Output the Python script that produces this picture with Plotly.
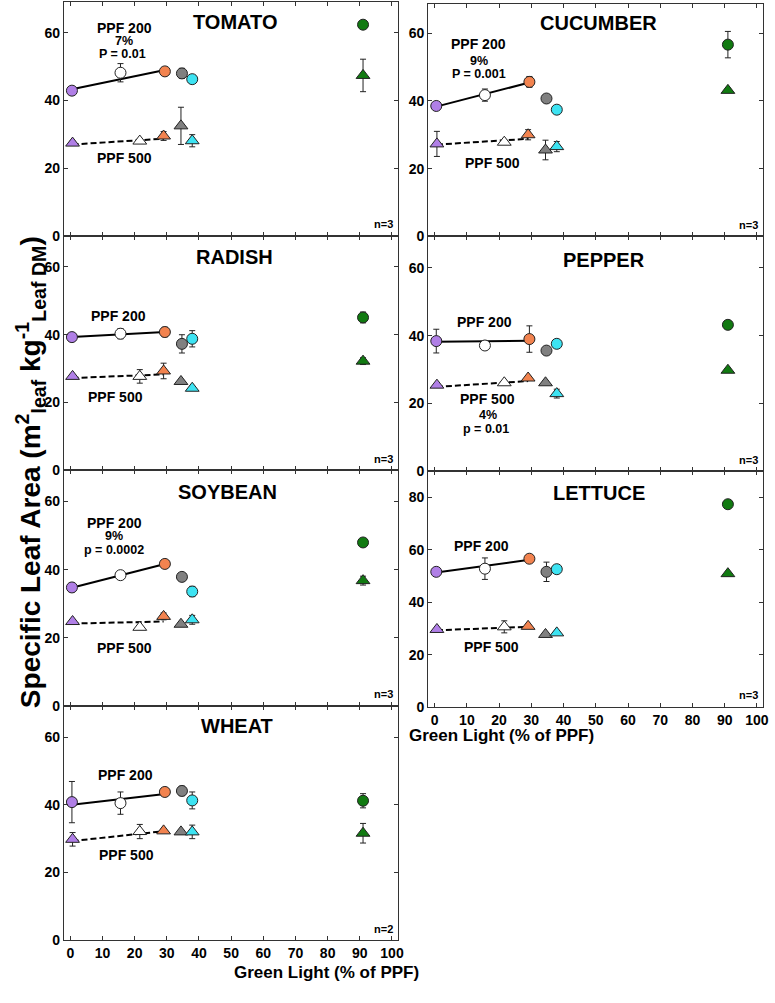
import plotly.graph_objects as go

# green light (% of PPF) of the six treatments, as plotted
x_ppf200 = [0.5, 15.6, 29.4, 34.7, 37.9, 91.0]
x_ppf500 = [0.7, 21.6, 29.0, 34.4, 37.9, 91.0]
x_fit200 = [0.5, 29.4]
x_fit500 = [0.7, 29.0]
colors = ['#B07FE6', '#FFFFFF', '#F2834F', '#808080', '#3DE3F2', '#117A11']

crops = ['TOMATO', 'RADISH', 'SOYBEAN', 'WHEAT', 'CUCUMBER', 'PEPPER', 'LETTUCE']
n_reps = ['n=3', 'n=3', 'n=3', 'n=2', 'n=3', 'n=3', 'n=3']

# specific leaf area (m2 kg-1), mean and error bar half-length
sla200 = {
    'TOMATO':   [42.9, 48.2, 48.6, 48.0, 46.3, 62.4],
    'RADISH':   [39.3, 40.3, 40.8, 37.3, 38.8, 45.1],
    'SOYBEAN':  [34.8, 38.4, 41.7, 37.9, 33.6, 48.0],
    'WHEAT':    [40.8, 40.5, 43.8, 44.1, 41.3, 41.2],
    'CUCUMBER': [38.5, 41.7, 45.6, 40.7, 37.4, 56.6],
    'PEPPER':   [38.4, 37.1, 39.0, 35.6, 37.6, 43.2],
    'LETTUCE':  [51.6, 52.8, 56.6, 51.6, 52.6, 77.4],
}
err200 = {
    'TOMATO':   [0.8, 2.7, 0.8, 1.5, 0.8, 0.8],
    'RADISH':   [0.6, 1.5, 1.4, 2.7, 2.4, 1.6],
    'SOYBEAN':  [1.3, 0.6, 0.6, 0.6, 1.5, 0.6],
    'WHEAT':    [6.1, 3.3, 0.6, 1.4, 2.5, 2.1],
    'CUCUMBER': [0.8, 1.8, 1.6, 0.8, 0.8, 3.9],
    'PEPPER':   [3.5, 0.6, 3.9, 0.6, 1.0, 0.6],
    'LETTUCE':  [0.8, 4.1, 0.8, 3.7, 0.8, 0.8],
}
sla500 = {
    'TOMATO':   [27.4, 28.0, 29.5, 32.5, 28.1, 47.4],
    'RADISH':   [27.7, 27.7, 29.3, 26.2, 24.2, 32.2],
    'SOYBEAN':  [24.8, 23.1, 26.3, 24.0, 25.3, 36.8],
    'WHEAT':    [29.8, 32.1, 32.3, 32.0, 32.0, 31.6],
    'CUCUMBER': [27.3, 27.8, 30.0, 25.5, 26.5, 43.1],
    'PEPPER':   [25.4, 26.1, 27.5, 26.1, 22.9, 29.8],
    'LETTUCE':  [29.6, 30.6, 30.8, 27.7, 28.3, 50.9],
}
err500 = {
    'TOMATO':   [0.6, 0.6, 1.3, 5.5, 1.8, 4.8],
    'RADISH':   [0.5, 2.0, 2.3, 0.5, 0.5, 1.0],
    'SOYBEAN':  [0.5, 0.5, 1.0, 0.5, 1.3, 1.3],
    'WHEAT':    [2.0, 2.1, 0.5, 0.5, 2.0, 2.9],
    'CUCUMBER': [3.7, 0.6, 1.5, 2.9, 1.5, 0.6],
    'PEPPER':   [0.5, 0.5, 0.5, 0.5, 1.3, 0.5],
    'LETTUCE':  [0.6, 2.3, 0.6, 0.6, 0.6, 0.6],
}
# regression line end values
fit200 = {
    'TOMATO': [43.3, 49.0], 'RADISH': [39.3, 40.8], 'SOYBEAN': [34.7, 41.7],
    'WHEAT': [40.0, 43.2], 'CUCUMBER': [38.3, 45.4], 'PEPPER': [38.2, 38.5],
    'LETTUCE': [51.3, 56.2],
}
fit500 = {
    'TOMATO': [27.0, 28.7], 'RADISH': [27.2, 28.3], 'SOYBEAN': [24.2, 24.8],
    'WHEAT': [29.3, 32.2], 'CUCUMBER': [27.1, 28.8], 'PEPPER': [24.9, 26.6],
    'LETTUCE': [29.3, 30.6],
}

W, H = 775, 1003
FONT = 'Liberation Sans, Arial, sans-serif'

# panel boxes in pixels: left, right, top, bottom, y max
boxes = {
    'TOMATO':   (64.3, 401, 1.7, 237.7, 69.2),
    'RADISH':   (64.3, 401, 237.7, 474, 69.2),
    'SOYBEAN':  (64.3, 401, 474, 711.7, 69.2),
    'WHEAT':    (64.3, 401, 711.7, 947.7, 69.2),
    'CUCUMBER': (431, 768.3, 4, 238.3, 68.6),
    'PEPPER':   (431, 768.3, 238.3, 475, 69.3),
    'LETTUCE':  (431, 768.3, 475, 712.7, 90),
}
title_y = {'TOMATO': 63.1, 'RADISH': 63, 'SOYBEAN': 62.9, 'WHEAT': 63.2,
           'CUCUMBER': 63.1, 'PEPPER': 62.4, 'LETTUCE': 81.8}
title_x = {'TOMATO': 51.2, 'RADISH': 51, 'SOYBEAN': 49, 'WHEAT': 51.7,
           'CUCUMBER': 51, 'PEPPER': 52.6, 'LETTUCE': 51}

# text notes (text, x, y, size)
notes = {
    'TOMATO': [('PPF 200', 16.7, 61.5, 14), ('7%', 16.7, 57.7, 12.5),
               ('P = 0.01', 16.2, 53.8, 12.5), ('PPF 500', 16.7, 22.9, 14)],
    'RADISH': [('PPF 200', 14.9, 45.5, 14), ('PPF 500', 14.1, 21.7, 14)],
    'SOYBEAN': [('PPF 200', 13.6, 53.7, 14), ('9%', 13.6, 49.9, 12.5),
                ('p = 0.0002', 13.6, 45.9, 12.5), ('PPF 500', 16.7, 17.0, 14)],
    'WHEAT': [('PPF 200', 17.2, 48.8, 14), ('PPF 500', 17.4, 25.2, 14)],
    'CUCUMBER': [('PPF 200', 13.7, 56.8, 14), ('9%', 13.7, 51.9, 12.5),
                 ('P = 0.001', 13.7, 47.8, 12.5), ('PPF 500', 17.8, 21.8, 14)],
    'PEPPER': [('PPF 200', 15.5, 43.9, 14), ('PPF 500', 16.5, 21.2, 14),
               ('4%', 16.5, 16.6, 12.5), ('p = 0.01', 16.0, 12.4, 12.5)],
    'LETTUCE': [('PPF 200', 14.4, 61.6, 14), ('PPF 500', 17.5, 23.0, 14)],
}

fig = go.Figure()
annotations = []
layout = {}

for i, crop in enumerate(crops):
    n = i + 1
    xa = 'x' if n == 1 else 'x%d' % n
    ya = 'y' if n == 1 else 'y%d' % n
    x0, x1, top, bot, ymax = boxes[crop]

    fig.add_trace(go.Scatter(x=x_fit200, y=fit200[crop], mode='lines',
                             line=dict(color='black', width=2),
                             xaxis=xa, yaxis=ya, showlegend=False))
    fig.add_trace(go.Scatter(x=x_fit500, y=fit500[crop], mode='lines',
                             line=dict(color='black', width=2, dash='6px,3px'),
                             xaxis=xa, yaxis=ya, showlegend=False))
    fig.add_trace(go.Scatter(
        x=x_ppf500, y=sla500[crop], mode='markers',
        marker=dict(symbol='triangle-up', size=12, color=colors,
                    line=dict(color='#222', width=1)),
        error_y=dict(type='data', array=err500[crop], color='#222',
                     thickness=1, width=3),
        xaxis=xa, yaxis=ya, showlegend=False))
    fig.add_trace(go.Scatter(
        x=x_ppf200, y=sla200[crop], mode='markers',
        marker=dict(symbol='circle', size=11, color=colors,
                    line=dict(color='#222', width=1)),
        error_y=dict(type='data', array=err200[crop], color='#222',
                     thickness=1, width=3),
        xaxis=xa, yaxis=ya, showlegend=False))

    bottom_row = crop in ('WHEAT', 'LETTUCE')
    layout['xaxis' if n == 1 else 'xaxis%d' % n] = dict(
        domain=[x0 / W, x1 / W], anchor=ya, range=[-2, 102],
        tick0=0, dtick=10, ticks='inside', ticklen=4, tickcolor='#333',
        showline=True, linecolor='#333', linewidth=1, mirror='ticks',
        showgrid=False, zeroline=False, showticklabels=bottom_row,
        tickfont=dict(family=FONT, size=14, color='black', weight='bold'))
    layout['yaxis' if n == 1 else 'yaxis%d' % n] = dict(
        domain=[1 - bot / H, 1 - top / H], anchor=xa, range=[0, ymax],
        tick0=0, dtick=20, ticks='inside', ticklen=4, tickcolor='#333',
        showline=True, linecolor='#333', linewidth=1, mirror='ticks',
        showgrid=False, zeroline=False,
        tickfont=dict(family=FONT, size=14, color='black', weight='bold'))

    annotations.append(dict(text=crop, x=title_x[crop], y=title_y[crop],
                            xref=xa, yref=ya, showarrow=False,
                            font=dict(family=FONT, size=20, color='black', weight='bold')))
    for txt, tx, ty, sz in notes[crop]:
        annotations.append(dict(text=txt, x=tx, y=ty, xref=xa, yref=ya, showarrow=False,
                                font=dict(family=FONT, size=sz, color='black', weight='bold')))
    annotations.append(dict(text=n_reps[i], x=0.99, y=0.015,
                            xref=xa + ' domain', yref=ya + ' domain',
                            xanchor='right', yanchor='bottom', showarrow=False,
                            font=dict(family=FONT, size=11, color='black', weight='bold')))

# axis titles
for cx, cy in [(234, 992), (600, 753)]:
    annotations.append(dict(text='Green Light (% of PPF)', x=cx / W, y=1 - cy / H,
                            xref='paper', yref='paper', showarrow=False,
                            font=dict(family=FONT, size=17, color='black', weight='bold')))
annotations.append(dict(
    text='Specific Leaf Area (m<sup>2</sup><sub>leaf</sub> kg<sup>-1</sup><sub>Leaf DM</sub>)',
    x=9 / W, y=1 - 476 / H, xref='paper', yref='paper', textangle=-90, showarrow=False,
    font=dict(family=FONT, size=28, color='black', weight='bold')))

fig.update_layout(
    width=W, height=H, margin=dict(l=0, r=0, t=0, b=0),
    paper_bgcolor='white', plot_bgcolor='white',
    annotations=annotations, **layout)

fig.write_html("out.html", config={'displayModeBar': False},
               post_script="document.body.style.margin='0px';")
